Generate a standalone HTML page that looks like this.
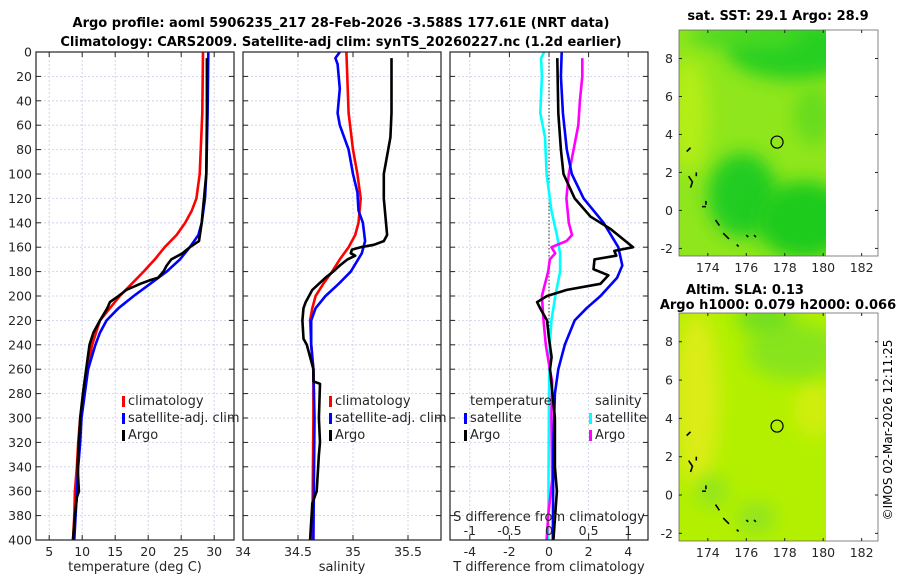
<!DOCTYPE html>
<html><head><meta charset="utf-8"><style>
body{margin:0;background:#fff}
svg{display:block;font-family:"DejaVu Sans","Liberation Sans",sans-serif}
</style></head><body>
<svg id="s" width="900" height="580" xmlns="http://www.w3.org/2000/svg">
<defs>
<filter id="bl" x="-50%" y="-50%" width="200%" height="200%"><feGaussianBlur stdDeviation="9"/></filter>
<clipPath id="c1"><rect x="679" y="30" width="147" height="226"/></clipPath>
<clipPath id="c2"><rect x="679" y="313" width="147" height="228"/></clipPath>
</defs>
<text x="341" y="27" text-anchor="middle" font-size="13" font-weight="bold">Argo profile: aoml 5906235_217 28-Feb-2026 -3.588S 177.61E (NRT data)</text>
<text x="341" y="46" text-anchor="middle" font-size="13" font-weight="bold">Climatology: CARS2009. Satellite-adj clim: synTS_20260227.nc (1.2d earlier)</text>
<g id="maps"></g>
<g id="plots"></g>
<text transform="translate(892,430) rotate(-90)" text-anchor="middle" font-size="12">©IMOS 02-Mar-2026 12:11:25</text>
</svg>
<script>
// ---- data (depth in m) ----
const climTd=[0,50,100,120,130,140,150,160,170,180,190,200,210,220,240,260,280,300,320,340,360,380,400];
const climT=[28.3,28.2,27.8,27.3,26.6,25.6,24.3,22.5,21.0,19.3,17.5,15.7,14.2,12.7,11.5,10.8,10.2,9.7,9.4,9.2,8.9,8.8,8.6];
const satTd=[0,50,100,120,140,150,160,170,180,190,200,210,220,230,240,260,280,300,320,340,360,380,400];
const satT=[29.1,29.0,28.8,28.6,28.1,27.6,26.3,24.8,22.8,20.3,17.8,15.5,13.7,12.7,12.0,10.9,10.4,9.9,9.7,9.4,9.2,9.0,8.8];
const argoTd=[5,50,100,140,155,160,165,170,175,180,185,187,190,195,200,205,210,220,230,240,260,280,300,320,340,360,365,380,400];
const argoT=[28.9,28.9,28.8,28.1,27.7,26.3,25.2,23.5,22.8,22.3,21.5,20.3,18.8,16.7,15.5,14.2,13.8,12.7,11.7,11.1,10.6,10.1,9.7,9.5,9.3,9.5,9.2,8.9,8.6];
const climSd=[0,50,80,100,120,140,150,160,170,180,190,200,210,220,240,260,300,400];
const climS=[34.94,34.96,35.0,35.04,35.07,35.05,35.02,34.96,34.88,34.81,34.73,34.66,34.63,34.61,34.62,34.64,34.64,34.63];
const satSd=[0,5,10,30,50,60,80,100,115,130,140,155,165,180,190,200,210,220,240,260,300,400];
const satS=[34.88,34.84,34.86,34.88,34.86,34.88,34.96,35.0,35.04,35.05,35.09,35.11,35.08,34.98,34.87,34.75,34.66,34.62,34.62,34.64,34.65,34.64];
const argoSd=[5,50,70,80,100,120,140,150,155,158,160,162,165,167,170,175,180,185,190,195,200,205,210,220,235,240,250,260,270,272,300,320,330,360,370,400];
const argoS=[35.35,35.35,35.34,35.32,35.28,35.28,35.30,35.31,35.28,35.19,35.07,34.99,34.98,35.02,34.95,34.88,34.82,34.75,34.69,34.63,34.60,34.57,34.55,34.54,34.55,34.58,34.61,34.64,34.64,34.70,34.69,34.70,34.69,34.67,34.63,34.61];
const dTsatD=[0,20,50,80,100,120,140,160,175,185,200,210,220,240,260,280,320,400];
const dTsat=[0.64,0.6,0.7,0.9,1.15,1.75,2.76,3.5,3.7,3.44,2.6,1.9,1.3,0.8,0.47,0.3,0.22,0.19];
const dTargoD=[5,50,80,100,120,135,145,160,163,167,170,178,183,190,195,200,205,210,220,235,250,260,300,340,360,400];
const dTargo=[0.42,0.47,0.6,0.73,1.3,2.1,3.1,4.25,3.3,3.4,2.3,2.25,3.0,2.6,0.9,-0.1,-0.6,-0.45,-0.1,0.0,0.13,0.05,0.3,0.3,0.4,0.22];
const dSsatD=[0,5,20,50,70,100,130,150,165,180,200,220,240,280,400];
const dSsat=[-0.06,-0.1,-0.09,-0.11,-0.05,-0.03,0.03,0.1,0.14,0.14,0.08,0.03,0.01,0.0,-0.01];
const dSargoD=[5,20,40,60,80,100,120,140,150,155,160,165,170,180,190,200,220,240,260,270,300,350,380,400];
const dSargo=[0.42,0.42,0.39,0.37,0.31,0.25,0.22,0.25,0.29,0.22,0.03,0.08,0.01,-0.01,-0.05,-0.09,-0.07,-0.04,0.01,0.04,0.03,0.04,-0.01,-0.03];
const depthTicks=[0,20,40,60,80,100,120,140,160,180,200,220,240,260,280,300,320,340,360,380,400];
const tTicks=[5,10,15,20,25,30];
const sTicks=[34,34.5,35,35.5];
const dTTicks=[-4,-2,0,2,4];
const dSTicks=[-1,-0.5,0,0.5,1];
const dSTickLabels=["-1","-0.5","0","0.5","1"];

const NS="http://www.w3.org/2000/svg";
const plots=document.getElementById('plots');
function el(tag,attrs,parent,txt){const e=document.createElementNS(NS,tag);for(const k in attrs)e.setAttribute(k,attrs[k]);if(txt!==undefined)e.textContent=txt;(parent||plots).appendChild(e);return e;}
const Y0=52,Y1=540;
function yD(d){return Y0+d/400*(Y1-Y0);}
function mkX(x0,x1,v0,v1){return v=>x0+(v-v0)/(v1-v0)*(x1-x0);}
const panels=[
 {x0:36,x1:234,v0:3,v1:33,ticks:tTicks,lab:"temperature (deg C)",name:"temperature"},
 {x0:243,x1:441,v0:34,v1:35.8,ticks:sTicks,lab:"salinity",name:"salinity"},
 {x0:450,x1:648,v0:-5,v1:5,ticks:dTTicks,lab:"T difference from climatology",name:"difference"}
];
panels.forEach((p,i)=>{
 const g=el('g',{});
 
 
 const X=mkX(p.x0,p.x1,p.v0,p.v1);p.X=X;
 depthTicks.forEach(d=>{
  const l=el('line',{x1:p.x0,x2:p.x1,y1:yD(d),y2:yD(d),stroke:'#c8cce8','stroke-width':0.8,'stroke-dasharray':'2,2'},g);
  
  
  el('line',{x1:p.x0,x2:p.x0+5,y1:yD(d),y2:yD(d),stroke:'#222'},g);
  el('line',{x1:p.x1-5,x2:p.x1,y1:yD(d),y2:yD(d),stroke:'#222'},g);
  if(i===0){const t=el('text',{x:p.x0-4,y:yD(d)+4.5,'text-anchor':'end','font-size':12.5,fill:'#262626'},g,String(d));
   
   }
 });
 p.ticks.forEach(v=>{
  const x=X(v);
  if(x>p.x0+1&&x<p.x1-1){
   const l=el('line',{x1:x,x2:x,y1:Y0,y2:Y1,stroke:'#c8cce8','stroke-width':0.8,'stroke-dasharray':'2,2'},g);
   
   }
  el('line',{x1:x,x2:x,y1:Y1,y2:Y1-5,stroke:'#222'},g);
  el('line',{x1:x,x2:x,y1:Y0,y2:Y0+5,stroke:'#222'},g);
  const t=el('text',{x:x,y:556,'text-anchor':'middle','font-size':12.5,fill:'#262626'},g,String(v));
  
  
 });
 const xl=el('text',{x:(p.x0+p.x1)/2,y:571,'text-anchor':'middle','font-size':13,fill:'#262626'},g,p.lab);
 
 
 p.g=g;
});
function line(g,X,vals,deps,color,name,w){
 const pts=vals.map((v,k)=>X(v).toFixed(1)+','+yD(deps[k]).toFixed(1)).join(' ');
 const pl=el('polyline',{points:pts,fill:'none',stroke:color,'stroke-width':w||2.6,'stroke-linejoin':'round'},g);
 
 
}
const P=panels;
line(P[0].g,P[0].X,climT,climTd,'#ff0000','climatology-temperature-line');
line(P[0].g,P[0].X,satT,satTd,'#0000ff','satellite-temperature-line');
line(P[0].g,P[0].X,argoT,argoTd,'#000','argo-temperature-line');
line(P[1].g,P[1].X,climS,climSd,'#ff0000','climatology-salinity-line');
line(P[1].g,P[1].X,satS,satSd,'#0000ff','satellite-salinity-line');
line(P[1].g,P[1].X,argoS,argoSd,'#000','argo-salinity-line');
// diff panel
const XS=mkX(450,648,-1.25,1.25);
const zl=el('line',{x1:P[2].X(0),x2:P[2].X(0),y1:Y0,y2:Y1,stroke:'#333','stroke-width':1,'stroke-dasharray':'1.5,2'},P[2].g);


line(P[2].g,XS,dSsat,dSsatD,'#00ffff','salinity-satellite-diff-line');
line(P[2].g,XS,dSargo,dSargoD,'#ff00ff','salinity-argo-diff-line');
line(P[2].g,P[2].X,dTsat,dTsatD,'#0000ff','temperature-satellite-diff-line');
line(P[2].g,P[2].X,dTargo,dTargoD,'#000','temperature-argo-diff-line');
const st=el('text',{x:549,y:521,'text-anchor':'middle','font-size':13,fill:'#262626'},P[2].g,'S difference from climatology');


dSTicks.forEach((v,k)=>{const t=el('text',{x:XS(v),y:535,'text-anchor':'middle','font-size':12.5,fill:'#262626'},P[2].g,dSTickLabels[k]);
 
 });
// frames
panels.forEach(p=>{const r=el('rect',{x:p.x0,y:Y0,width:p.x1-p.x0,height:Y1-Y0,fill:'none',stroke:'#222','stroke-width':1.2},p.g);
 
 });
// legends
function leg(g,x,y,color,txt){
 el('rect',{x:x,y:y-9,width:3,height:11,fill:color},g);
 const t=el('text',{x:x+6,y:y,'font-size':13,fill:'#262626'},g,txt);
 
 
}
[[P[0].g,122],[P[1].g,329]].forEach(([g,x])=>{
 leg(g,x,405,'#ff0000','climatology');leg(g,x,422,'#0000ff','satellite-adj. clim');leg(g,x,439,'#000','Argo');
});
const lt=el('text',{x:470,y:405,'font-size':13,fill:'#262626'},P[2].g,'temperature');

const ls=el('text',{x:595,y:405,'font-size':13,fill:'#262626'},P[2].g,'salinity');

leg(P[2].g,464,422,'#0000ff','satellite');leg(P[2].g,464,439,'#000','Argo');
leg(P[2].g,589,422,'#00ffff','satellite');leg(P[2].g,589,439,'#ff00ff','Argo');

// ---- maps ----
const maps=document.getElementById('maps');
const lonTicks=[174,176,178,180,182];
const latTicks=[-2,0,2,4,6,8];
const mapDefs=[
 {y0:30,y1:256,clip:'c1',base:'#8fe61c',name:'sst-map',
  blobs:[[178.5,8.5,3.5,1.6,'#28cf20'],[175.8,0.8,1.8,2.2,'#22cc20'],[179,-0.5,2.5,2,'#1ccb1e'],[176,9.2,3,0.7,'#4ad820'],[173,5,1,3,'#b4ee14'],[179.5,5,1,1.5,'#66dc1e']],
  titles:[['sat. SST: 29.1 Argo: 28.9',20]]},
 {y0:313,y1:541,clip:'c2',base:'#b2f000',name:'sla-map',
  blobs:[[173.4,5,1.2,4.5,'#dcec18'],[179.5,4.5,1,1.5,'#d2ee10'],[178.5,7.5,2.5,1.5,'#88e41c'],[177,9.2,1.5,0.8,'#70de20'],[174.2,0.2,0.8,0.8,'#90e420'],[176.5,-1.2,1,0.8,'#90e420']],
  titles:[['Altim. SLA: 0.13',294],['Argo h1000: 0.079 h2000: 0.066',313-4+0]]}
];
mapDefs.forEach(m=>{
 const g=el('g',{},maps);
 
 
 const LX=mkX(679,878,172.5,182.85), LY=mkX(m.y1,m.y0,-2.4,9.5);
 const cg=el('g',{'clip-path':'url(#'+m.clip+')'},g);
 el('rect',{x:679,y:m.y0,width:147,height:m.y1-m.y0,fill:m.base},cg);
 m.blobs.forEach(b=>el('ellipse',{cx:LX(b[0]),cy:LY(b[1]),rx:b[2]*19.3,ry:b[3]*19.2,fill:b[4],filter:'url(#bl)'},cg));
 // coastline fragments
 [[[172.9,3.1],[173.1,3.3]],[[173,1.8],[173.2,1.5],[173.1,1.2]],[[173.4,2],[173.4,1.8]],[[173.7,0.2],[173.9,0.2]],[[173.9,0.5],[173.9,0.3]],[[174.4,-0.5],[174.6,-0.8]],[[174.8,-1.2],[175.1,-1.5]],[[175.5,-1.8],[175.6,-1.9]],[[176,-1.3],[176.1,-1.4]],[[176.4,-1.3],[176.5,-1.4]]].forEach(s=>{
  el('polyline',{points:s.map(q=>LX(q[0])+','+LY(q[1])).join(' '),fill:'none',stroke:'#000','stroke-width':1.6},cg);
 });
 const c=el('circle',{cx:LX(177.6),cy:LY(3.6),r:6,fill:'none',stroke:'#000','stroke-width':1.2},g);
 
 
 el('rect',{x:679,y:m.y0,width:199,height:m.y1-m.y0,fill:'none',stroke:'#666','stroke-width':0.8},g);
 lonTicks.forEach(v=>{const x=LX(v);el('line',{x1:x,x2:x,y1:m.y1,y2:m.y1-3,stroke:'#222'},g);el('line',{x1:x,x2:x,y1:m.y0,y2:m.y0+3,stroke:'#222'},g);
  const t=el('text',{x:x,y:m.y1+16,'text-anchor':'middle','font-size':12.5,fill:'#262626'},g,String(v));
  });
 latTicks.forEach(v=>{const y=LY(v);el('line',{x1:679,x2:682,y1:y,y2:y,stroke:'#222'},g);el('line',{x1:875,x2:878,y1:y,y2:y,stroke:'#222'},g);
  const t=el('text',{x:673,y:y+4.5,'text-anchor':'end','font-size':12.5,fill:'#262626'},g,String(v));
  });
 m.titles.forEach(tt=>{const t=el('text',{x:m.name==='sst-map'?778:(tt[0].startsWith('Altim')?745:778),y:tt[1],'text-anchor':'middle','font-size':13,'font-weight':'bold'},g,tt[0]);
  });
});
</script>
</body></html>
